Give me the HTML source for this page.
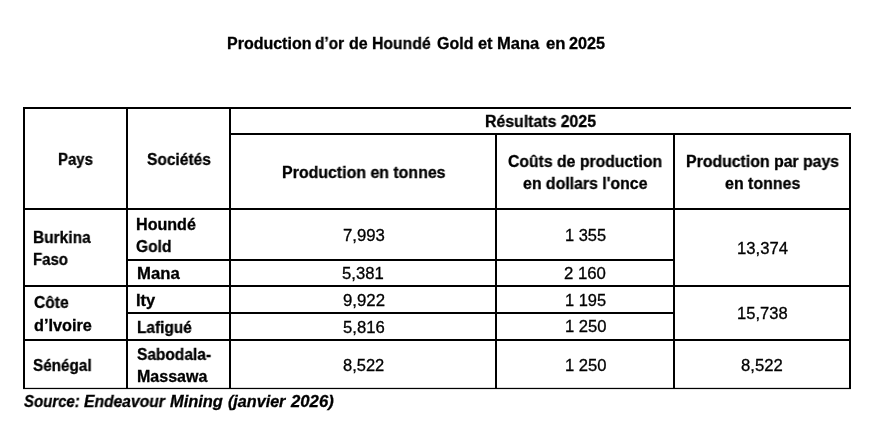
<!DOCTYPE html>
<html><head><meta charset="utf-8"><title>Production d’or</title><style>
*{margin:0;padding:0}
html,body{width:882px;height:447px;background:#fff;overflow:hidden;position:relative}
.t{position:absolute;font-family:"Liberation Sans",sans-serif;font-size:16px;line-height:16px;white-space:pre;color:#000;transform-origin:0 0;will-change:transform;-webkit-text-stroke:0.3px #000}
.b{font-weight:bold;-webkit-text-stroke:0.3px #000}
.i{font-style:italic}
.h,.v{position:absolute;background:#000}
</style></head><body>
<div class="h" style="left:23px;top:107px;width:828px;height:2px"></div>
<div class="h" style="left:229px;top:133px;width:622px;height:2px"></div>
<div class="h" style="left:23px;top:208px;width:828px;height:2px"></div>
<div class="h" style="left:126px;top:259px;width:549px;height:2px"></div>
<div class="h" style="left:23px;top:285px;width:828px;height:2px"></div>
<div class="h" style="left:126px;top:312px;width:549px;height:2px"></div>
<div class="h" style="left:23px;top:339px;width:828px;height:2px"></div>
<div class="h" style="left:23px;top:387px;width:828px;height:1px;background:#d8d8d8"></div>
<div class="h" style="left:23px;top:388px;width:828px;height:1px"></div>
<div class="h" style="left:23px;top:389px;width:828px;height:1px;background:#e8e8e8"></div>
<div class="v" style="left:23px;top:107px;width:2px;height:282px"></div>
<div class="v" style="left:126px;top:107px;width:2px;height:282px"></div>
<div class="v" style="left:229px;top:107px;width:2px;height:282px"></div>
<div class="v" style="left:495px;top:133px;width:2px;height:256px"></div>
<div class="v" style="left:673px;top:133px;width:2px;height:256px"></div>
<div class="v" style="left:849px;top:133px;width:2px;height:256px"></div>
<div class="t b" style="left:226.57px;top:35.7px;transform:scaleX(0.9983)">Production</div>
<div class="t b" style="left:314.53px;top:35.7px;transform:scaleX(0.9601)">d’or</div>
<div class="t b" style="left:349.48px;top:35.7px;transform:scaleX(0.9972)">de</div>
<div class="t b" style="left:371.79px;top:35.7px;transform:scaleX(0.9849)">Houndé</div>
<div class="t b" style="left:437.37px;top:35.7px;transform:scaleX(0.9971)">Gold</div>
<div class="t b" style="left:478.25px;top:35.7px;transform:scaleX(1.0248)">et</div>
<div class="t b" style="left:496.52px;top:35.7px;transform:scaleX(1.0343)">Mana</div>
<div class="t b" style="left:545.74px;top:35.7px;transform:scaleX(1.0443)">en</div>
<div class="t b" style="left:568.92px;top:35.7px;transform:scaleX(1.0128)">2025</div>
<div class="t b" style="left:484.78px;top:113.7px;transform:scaleX(0.9901)">Résultats 2025</div>
<div class="t b" style="left:57.74px;top:151.8px;transform:scaleX(0.9348)">Pays</div>
<div class="t b" style="left:146.75px;top:151.8px;transform:scaleX(0.9698)">Sociétés</div>
<div class="t b" style="left:281.97px;top:164.6px;transform:scaleX(0.9944)">Production en tonnes</div>
<div class="t b" style="left:507.84px;top:153.6px;transform:scaleX(0.9844)">Coûts de production</div>
<div class="t b" style="left:522.67px;top:176.0px;transform:scaleX(0.9906)">en dollars l'once</div>
<div class="t b" style="left:685.58px;top:153.6px;transform:scaleX(0.9893)">Production par pays</div>
<div class="t b" style="left:725.28px;top:176.0px;transform:scaleX(0.9959)">en tonnes</div>
<div class="t b" style="left:32.70px;top:229.9px;transform:scaleX(0.9674)">Burkina</div>
<div class="t b" style="left:32.73px;top:251.7px;transform:scaleX(0.9368)">Faso</div>
<div class="t b" style="left:136.49px;top:217.1px;transform:scaleX(1.0061)">Houndé</div>
<div class="t b" style="left:136.29px;top:239.0px;transform:scaleX(0.9702)">Gold</div>
<div class="t b" style="left:137.04px;top:265.9px;transform:scaleX(1.0430)">Mana</div>
<div class="t" style="left:342.55px;top:227.8px;transform:scaleX(1.0465)">7,993</div>
<div class="t" style="left:342.38px;top:266.2px;transform:scaleX(1.0405)">5,381</div>
<div class="t" style="left:564.98px;top:227.8px;transform:scaleX(1.0268)">1 355</div>
<div class="t" style="left:564.37px;top:266.2px;transform:scaleX(1.0471)">2 160</div>
<div class="t" style="left:736.74px;top:241.0px;transform:scaleX(1.0407)">13,374</div>
<div class="t b" style="left:33.53px;top:295.0px;transform:scaleX(0.9740)">Côte</div>
<div class="t b" style="left:33.65px;top:317.9px;transform:scaleX(1.0165)">d’Ivoire</div>
<div class="t b" style="left:136.47px;top:292.9px;transform:scaleX(1.0298)">Ity</div>
<div class="t b" style="left:136.65px;top:320.1px;transform:scaleX(0.9622)">Lafigué</div>
<div class="t" style="left:342.84px;top:293.1px;transform:scaleX(1.0491)">9,922</div>
<div class="t" style="left:342.69px;top:319.7px;transform:scaleX(1.0412)">5,816</div>
<div class="t" style="left:564.59px;top:292.7px;transform:scaleX(1.0268)">1 195</div>
<div class="t" style="left:564.59px;top:319.3px;transform:scaleX(1.0371)">1 250</div>
<div class="t" style="left:736.73px;top:306.2px;transform:scaleX(1.0334)">15,738</div>
<div class="t b" style="left:33.46px;top:358.0px;transform:scaleX(0.9544)">Sénégal</div>
<div class="t b" style="left:137.06px;top:346.9px;transform:scaleX(0.9685)">Sabodala-</div>
<div class="t b" style="left:136.86px;top:368.6px;transform:scaleX(1.0009)">Massawa</div>
<div class="t" style="left:342.67px;top:357.5px;transform:scaleX(1.0313)">8,522</div>
<div class="t" style="left:564.59px;top:357.9px;transform:scaleX(1.0371)">1 250</div>
<div class="t" style="left:741.46px;top:357.6px;transform:scaleX(1.0412)">8,522</div>
<div class="t b i" style="left:24.29px;top:393.7px;transform:scaleX(0.9363)">Source:</div>
<div class="t b i" style="left:83.88px;top:393.7px;transform:scaleX(0.9773)">Endeavour</div>
<div class="t b i" style="left:170.13px;top:393.7px;transform:scaleX(1.0253)">Mining</div>
<div class="t b i" style="left:227.99px;top:393.7px;transform:scaleX(1.0082)">(janvier</div>
<div class="t b i" style="left:290.70px;top:393.7px;transform:scaleX(1.0442)">2026)</div>
</body></html>
